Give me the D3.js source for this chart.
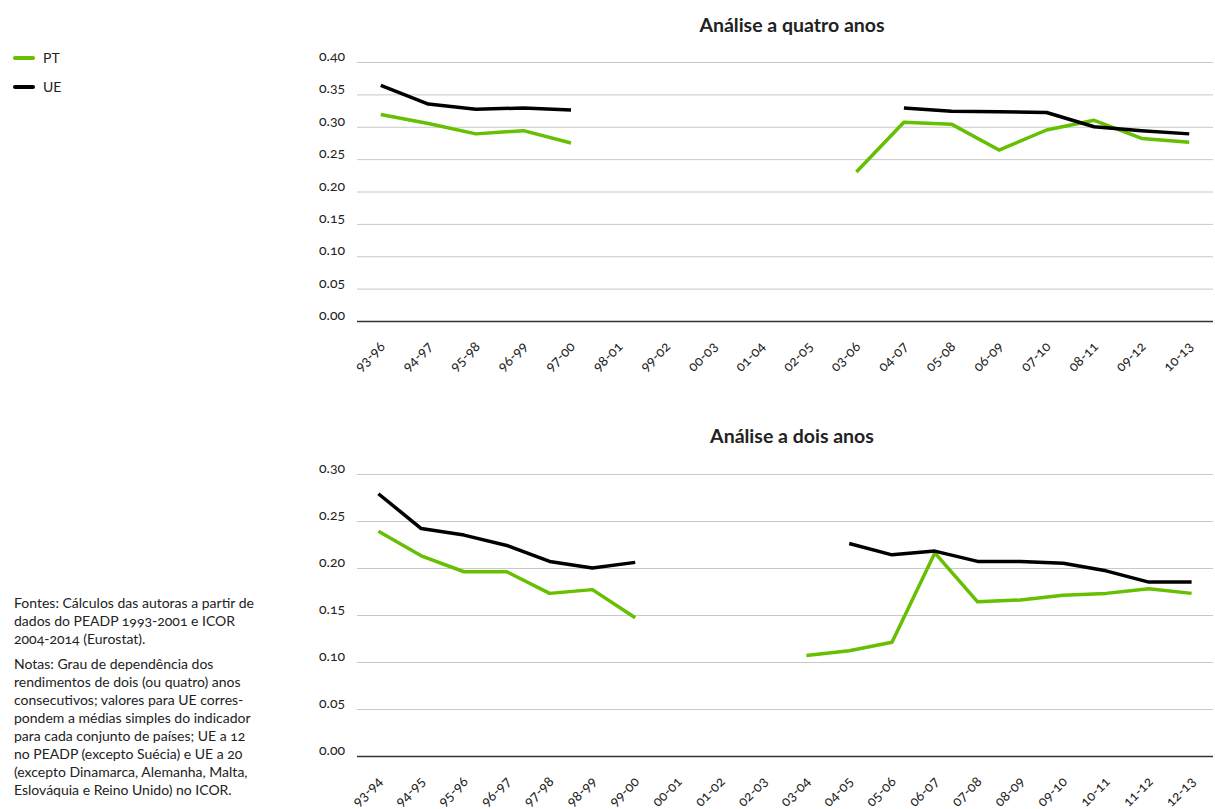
<!DOCTYPE html>
<html>
<head>
<meta charset="utf-8">
<script src="https://cdn.jsdelivr.net/npm/d3@7.9.0/dist/d3.min.js"></script>
<style>
  body { margin: 0; background: #fff; }
  svg text { font-family: Lato, "Open Sans", sans-serif; font-variant-numeric: oldstyle-nums; font-feature-settings: "onum" 1; }
  .tick text { fill: #222; }
  .notes { font-size: 14px; fill: #222; }
</style>
</head>
<body>
<svg id="chart" width="1215" height="809"></svg>
<script>
// four-year analysis
const catsFour = ['93-96','94-97','95-98','96-99','97-00','98-01','99-02','00-03','01-04','02-05',
  '03-06','04-07','05-08','06-09','07-10','08-11','09-12','10-13'];
const ptFour = [0.319, 0.305, 0.289, 0.294, 0.275, null, null, null, null, null,
  0.230, 0.307, 0.304, 0.264, 0.295, 0.310, 0.282, 0.276];
const ueFour = [0.364, 0.335, 0.327, 0.329, 0.326, null, null, null, null, null,
  null, 0.329, 0.324, 0.323, 0.322, 0.300, 0.294, 0.289];
const ticksFour = [0, 0.05, 0.10, 0.15, 0.20, 0.25, 0.30, 0.35, 0.40];

// two-year analysis
const catsTwo = ['93-94','94-95','95-96','96-97','97-98','98-99','99-00','00-01','01-02','02-03',
  '03-04','04-05','05-06','06-07','07-08','08-09','09-10','10-11','11-12','12-13'];
const ptTwo = [0.239, 0.213, 0.196, 0.196, 0.173, 0.177, 0.147, null, null, null,
  0.107, 0.112, 0.121, 0.216, 0.164, 0.166, 0.171, 0.173, 0.178, 0.173];
const ueTwo = [0.279, 0.242, 0.235, 0.224, 0.207, 0.200, 0.206, null, null, null,
  null, 0.226, 0.214, 0.218, 0.207, 0.207, 0.205, 0.197, 0.185, 0.185];
const ticksTwo = [0, 0.05, 0.10, 0.15, 0.20, 0.25, 0.30];

const seriesNames = ['PT', 'UE'];
const seriesColors = ['#66bf00', '#000000'];

const notes = [
  'Fontes: Cálculos das autoras a partir de',
  'dados do PEADP 1993-2001 e ICOR',
  '2004-2014 (Eurostat).',
  null,
  'Notas: Grau de dependência dos',
  'rendimentos de dois (ou quatro) anos',
  'consecutivos; valores para UE corres-',
  'pondem a médias simples do indicador',
  'para cada conjunto de países; UE a 12',
  'no PEADP (excepto Suécia) e UE a 20',
  '(excepto Dinamarca, Alemanha, Malta,',
  'Eslováquia e Reino Unido) no ICOR.'
];

const svg = d3.select('#chart');
const left = 357, right = 1213;

function drawPanel(title, cats, series, ticks, top, bottom, titleY) {
  const g = svg.append('g');
  const x = d3.scalePoint().domain(cats).range([left, right]).padding(0.5);
  const y = d3.scaleLinear().domain([0, d3.max(ticks)]).range([bottom, top]);

  g.append('text')
    .attr('x', 792).attr('y', titleY)
    .attr('text-anchor', 'middle')
    .attr('font-size', 19.5).attr('font-weight', 'bold').attr('fill', '#222')
    .text(title);

  const yAxis = g.append('g')
    .attr('transform', `translate(${left},0)`)
    .call(d3.axisLeft(y).tickValues(ticks).tickSize(-(right - left)).tickPadding(12)
      .tickFormat(d3.format('.2f')))
    .attr('font-family', null).attr('font-size', null);
  yAxis.select('.domain').remove();
  yAxis.selectAll('.tick line').attr('stroke', (d) => d === 0 ? '#333' : '#c8c8c8')
    .attr('stroke-width', (d) => d === 0 ? 1.5 : 1);
  yAxis.selectAll('.tick text').attr('font-size', 14).attr('dy', '-0.1em')
    .style('font-variant-numeric', 'oldstyle-nums');

  const xAxis = g.append('g')
    .attr('transform', `translate(0,${bottom})`)
    .call(d3.axisBottom(x).tickSize(0).tickPadding(0))
    .attr('font-family', null).attr('font-size', null);
  xAxis.select('.domain').remove();
  xAxis.selectAll('.tick text')
    .attr('font-size', 14)
    .attr('text-anchor', 'end')
    .attr('dy', '0.35em')
    .attr('transform', 'translate(1,23) rotate(-45)')
    .style('font-variant-numeric', 'oldstyle-nums');

  const line = d3.line()
    .defined((d) => d != null)
    .x((d, i) => x(cats[i]))
    .y((d) => y(d));

  series.forEach((vals, i) => {
    g.append('path')
      .datum(vals)
      .attr('fill', 'none')
      .attr('stroke', seriesColors[i])
      .attr('stroke-width', 3.5)
      .attr('stroke-linejoin', 'round')
      .attr('d', line);
  });
}

drawPanel('Análise a quatro anos', catsFour, [ptFour, ueFour], ticksFour, 62, 321, 32);
drawPanel('Análise a dois anos', catsTwo, [ptTwo, ueTwo], ticksTwo, 474, 756, 443);

// legend
const legend = svg.append('g');
seriesNames.forEach((name, i) => {
  const ly = 58 + i * 29;
  legend.append('line')
    .attr('x1', 15).attr('x2', 33).attr('y1', ly).attr('y2', ly)
    .attr('stroke', seriesColors[i]).attr('stroke-width', 4).attr('stroke-linecap', 'round');
  legend.append('text')
    .attr('x', 43).attr('y', ly).attr('dy', '0.35em')
    .attr('font-size', 14).attr('fill', '#222')
    .text(name);
});

// sources and notes
let ny = 608;
notes.forEach((t) => {
  if (t == null) { ny += 7; return; }
  svg.append('text').attr('class', 'notes').attr('x', 14).attr('y', ny).text(t);
  ny += 18;
});
</script>
</body>
</html>
